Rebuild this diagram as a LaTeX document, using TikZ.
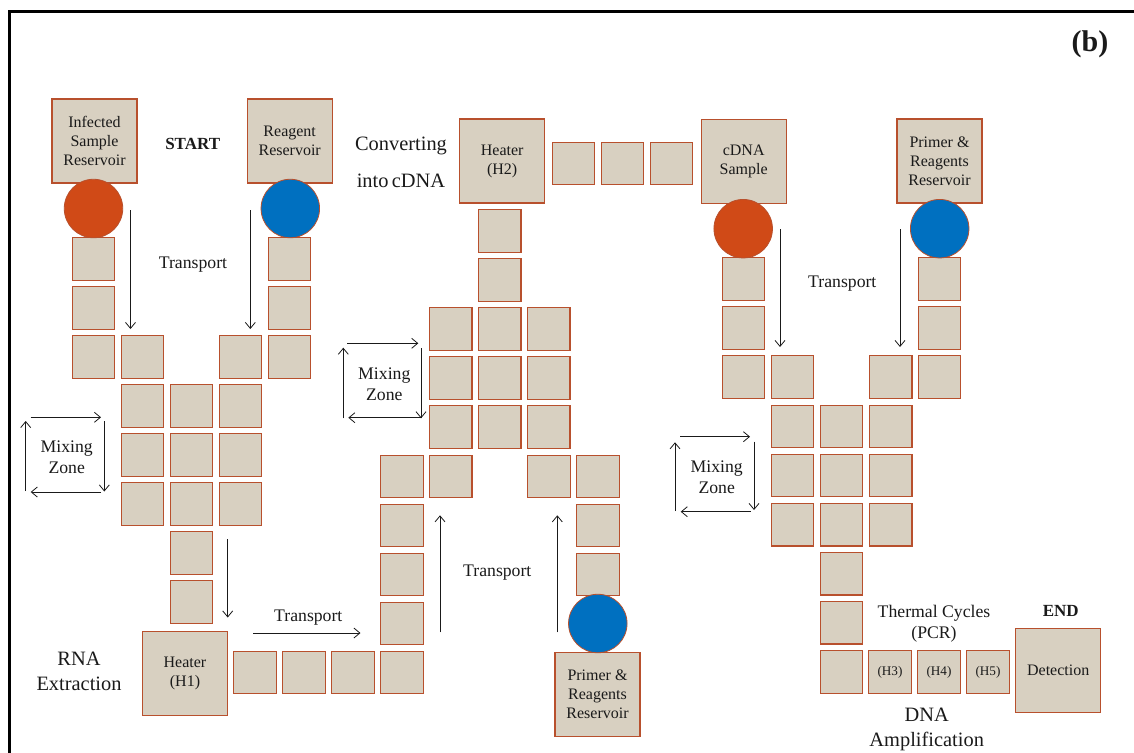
\documentclass[tikz,border=0pt]{standalone}
\usepackage{fontspec}
\setmainfont{Liberation Serif}
\usetikzlibrary{arrows.meta}
\definecolor{cellfill}{HTML}{D8D0C1}
\definecolor{cellline}{HTML}{B8502D}
\definecolor{redres}{HTML}{D04A17}
\definecolor{blueres}{HTML}{0070C0}
\definecolor{ink}{HTML}{1A1A1A}
\begin{document}
\begin{tikzpicture}[x=1pt,y=-1pt,
  cell/.style={draw=cellline, fill=cellfill, line width=1.1pt, minimum size=42.5pt, inner sep=0pt, text=ink, font=\fontsize{13.2}{15}\selectfont},
  bigcell/.style={cell, minimum width=85pt, minimum height=84pt, font=\fontsize{16}{19}\selectfont, align=center},
  resred/.style={circle, draw=cellline, fill=redres, minimum size=58.5pt, inner sep=0pt, line width=0.8pt},
  resblue/.style={resred, fill=blueres},
  flow/.style={draw=ink, line width=0.8pt, -{Straight Barb[length=6pt,width=10pt]}},
  lbl/.style={text=ink, font=\fontsize{17.7}{20.6}\selectfont, align=center, inner sep=0pt},
  biglbl/.style={text=ink, font=\fontsize{20.4}{25}\selectfont, align=center, inner sep=0pt},
  boldlbl/.style={text=ink, font=\fontsize{17}{20}\selectfont\bfseries, inner sep=0pt}]
\useasboundingbox (0,0) rectangle (1134,752);
\fill[white] (0,0) rectangle (1134,752);
\draw[line width=2.6pt] (9.7,753) -- (9.7,11.3) -- (1135,11.3);

% ---------- left part ----------
\node[bigcell] (isr) at (94.5,141) {Infected\\Sample\\Reservoir};
\node[bigcell] (rr) at (289.7,141) {Reagent\\Reservoir};
\foreach \n/\x/\y in {l1/93.5/259, l2/93.5/308, l3/93.5/357, l4/142.5/357,
                      r1/289.5/259, r2/289.5/308, r3/289.5/357, r4/240.5/357,
                      d1/191.5/553, d2/191.5/602}
  \node[cell] (\n) at (\x,\y) {};
\foreach \i/\x in {1/142.5,2/191.5,3/240.5}
  \foreach \j/\y in {1/406,2/455,3/504}
    \node[cell] (ma\i\j) at (\x,\y) {};
\node[bigcell] (h1) at (185,673.5) {Heater\\(H1)};
\foreach \n/\x/\y in {b1/255/672.5, b2/304/672.5, b3/353/672.5, b4/402/672.5,
                      u1/402/623.5, u2/402/574.5, u3/402/525.5, u4/402/476.5, u5/450.7/476.5,
                      v1/549/476.5, v2/598/476.5, v3/598/525.5, v4/598/574.5}
  \node[cell] (\n) at (\x,\y) {};
\node[bigcell] (prrb) at (597.5,694.5) {Primer \&\\Reagents\\Reservoir};

% ---------- middle part ----------
\foreach \i/\x in {1/450.7,2/499.7,3/548.7}
  \foreach \j/\y in {1/329,2/378,3/427}
    \node[cell] (mb\i\j) at (\x,\y) {};
\foreach \n/\x/\y in {h2a/499.7/280, h2b/499.7/231,
                      t1/573.5/163.3, t2/622.5/163.3, t3/671.5/163.3}
  \node[cell] (\n) at (\x,\y) {};
\node[bigcell] (h2) at (502.2,161) {Heater\\(H2)};
\node[bigcell] (cdna) at (743.7,161.5) {cDNA\\Sample};
\node[bigcell] (prrt) at (939.5,161) {Primer \&\\Reagents\\Reservoir};

% ---------- right part ----------
\foreach \n/\x/\y in {p1/743.5/279, p2/743.5/328, p3/743.5/377, p4/792.3/377,
                      q1/939.5/279, q2/939.5/328, q3/939.5/377, q4/890.7/377,
                      e1/841.5/573.7, e2/841.5/622.7, e3/841.5/671.8}
  \node[cell] (\n) at (\x,\y) {};
\foreach \i/\x in {1/792.3,2/841.5,3/890.7}
  \node[cell] (mc\i1) at (\x,426.3) {};
\foreach \i/\x in {1/792.3,2/841.5,3/890.7}
  \node[cell] (mc\i2) at (\x,475.5) {};
\foreach \i/\x in {1/792.3,2/841.5,3/890.7}
  \node[cell] (mc\i3) at (\x,524.7) {};
\node[cell] (h3) at (890,672) {(H3)};
\node[cell] (h4) at (939,672) {(H4)};
\node[cell] (h5) at (988,672) {(H5)};
\node[bigcell] (det) at (1058.2,670.3) {Detection};

% ---------- reservoir wells ----------
\node[resred] (cr1) at (93.5,208.5) {};
\node[resblue] (cb1) at (290.3,208.5) {};
\node[resblue] (cb2) at (597.8,623.5) {};
\node[resred] (cr2) at (743.2,228.7) {};
\node[resblue] (cb3) at (939.7,228.7) {};

% ---------- arrows ----------
\coordinate (a1s) at (130.5,210);   \coordinate (a1e) at (130.5,329);
\coordinate (a2s) at (250.3,210);   \coordinate (a2e) at (250.3,329);
\draw[flow] (a1s) -- (a1e);
\draw[flow] (a2s) -- (a2e);
% mixing zone left
\coordinate (m1a) at (30.7,417.3);  \coordinate (m1b) at (101,417.3);
\coordinate (m1c) at (104.3,421);   \coordinate (m1d) at (104.3,491.5);
\coordinate (m1e) at (101,492);     \coordinate (m1f) at (30.7,492);
\coordinate (m1g) at (25.7,491);    \coordinate (m1h) at (25.7,421);
\draw[flow] (m1a) -- (m1b);
\draw[flow] (m1c) -- (m1d);
\draw[flow] (m1e) -- (m1f);
\draw[flow] (m1g) -- (m1h);
\coordinate (a3s) at (227.7,539.3); \coordinate (a3e) at (227.7,617.5);
\draw[flow] (a3s) -- (a3e);
\coordinate (a4s) at (253.3,633);   \coordinate (a4e) at (360.5,633);
\draw[flow] (a4s) -- (a4e);
\coordinate (a5s) at (440,632.3);   \coordinate (a5e) at (440,515.3);
\coordinate (a6s) at (557.3,632.3); \coordinate (a6e) at (557.3,515.3);
\draw[flow] (a5s) -- (a5e);
\draw[flow] (a6s) -- (a6e);
% mixing zone middle
\coordinate (m2a) at (347.3,343.3); \coordinate (m2b) at (418.3,343.3);
\coordinate (m2c) at (421,348.3);   \coordinate (m2d) at (421,418.3);
\coordinate (m2e) at (421.7,417.7); \coordinate (m2f) at (348.3,417.7);
\coordinate (m2g) at (343.3,418.3); \coordinate (m2h) at (343.3,347.7);
\draw[flow] (m2a) -- (m2b);
\draw[flow] (m2c) -- (m2d);
\draw[flow] (m2e) -- (m2f);
\draw[flow] (m2g) -- (m2h);
% transport right
\coordinate (a7s) at (780,229);     \coordinate (a7e) at (780,347);
\coordinate (a8s) at (900,229);     \coordinate (a8e) at (900,347);
\draw[flow] (a7s) -- (a7e);
\draw[flow] (a8s) -- (a8e);
% mixing zone right
\coordinate (m3a) at (680,436.7);   \coordinate (m3b) at (750,436.7);
\coordinate (m3c) at (754,441.7);   \coordinate (m3d) at (754,510);
\coordinate (m3e) at (750.7,511.7); \coordinate (m3f) at (680.7,511.7);
\coordinate (m3g) at (675,511);     \coordinate (m3h) at (675,442.3);
\draw[flow] (m3a) -- (m3b);
\draw[flow] (m3c) -- (m3d);
\draw[flow] (m3e) -- (m3f);
\draw[flow] (m3g) -- (m3h);

% ---------- labels ----------
\node[boldlbl] (start) at (192.7,143.5) {START};
\node[lbl] (tr1) at (193,264.5) {Transport};
\node[lbl] (mz1) at (66.7,457.5) {Mixing\\Zone};
\node[biglbl] (rna) at (79,671) {RNA\\Extraction};
\node[lbl] (tr2) at (308.3,617.5) {Transport};
\node[lbl] (tr3) at (497.3,572.5) {Transport};
\node[lbl] (mz2) at (384.3,384.5) {Mixing\\Zone};
\node[biglbl, font=\fontsize{20.4}{37}\selectfont] (conv) at (401,162.5) {Converting\\into\,cDNA};
\node[lbl] (tr4) at (842.3,284) {Transport};
\node[lbl] (mz3) at (716.7,477.5) {Mixing\\Zone};
\node[lbl] (pcr) at (934,624) {Thermal Cycles\\(PCR)};
\node[boldlbl] (endl) at (1060.7,611) {END};
\node[biglbl] (dna) at (926.7,729.5) {DNA\\Amplification};
\node[text=ink, font=\fontsize{30}{34}\selectfont\bfseries, inner sep=0pt] (lab) at (1090,44.5) {(b)};
\end{tikzpicture}
\end{document}
